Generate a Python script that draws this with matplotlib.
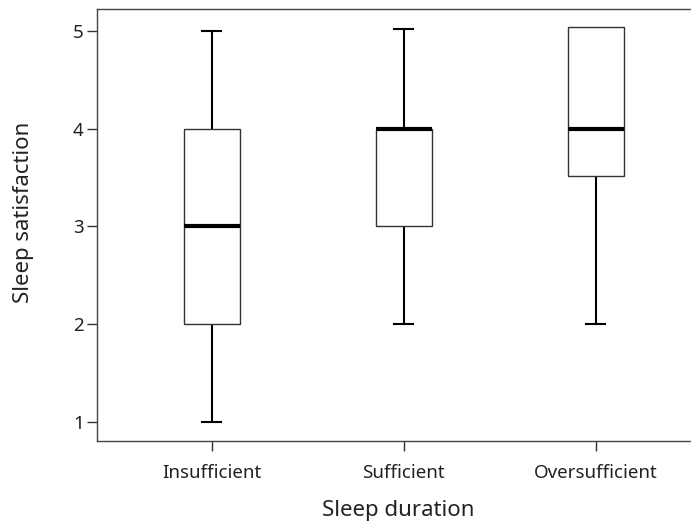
import matplotlib
matplotlib.use("Agg")
import matplotlib.pyplot as plt

categories = ["Insufficient", "Sufficient", "Oversufficient"]
whisker_low = [1.0, 2.0, 2.0]
q1 = [2.0, 3.0, 3.52]
median = [3.0, 4.0, 4.0]
q3 = [4.0, 4.0, 5.04]
whisker_high = [5.0, 5.02, 5.04]
y_ticks = [1, 2, 3, 4, 5]

plt.rcParams['font.family'] = ['Noto Sans', 'DejaVu Sans']

fig = plt.figure(figsize=(6.91, 5.26), dpi=100)
ax = fig.add_axes([97/691, 1-441/526, 1-97/691, (441-9)/526])

stats = []
for i, c in enumerate(categories):
    stats.append(dict(label=c, whislo=whisker_low[i], q1=q1[i], med=median[i],
                      q3=q3[i], whishi=whisker_high[i], fliers=[]))

positions = list(range(len(categories)))
res = ax.bxp(stats, positions=positions, widths=56/192, capwidths=19/192,
             showfliers=False, patch_artist=True,
             boxprops=dict(facecolor='white', edgecolor='#333333', linewidth=1.0, zorder=3),
             whiskerprops=dict(color='black', linewidth=1.5, zorder=2),
             capprops=dict(color='black', linewidth=1.5, zorder=2),
             medianprops=dict(color='black', linewidth=3.0, solid_capstyle='butt', zorder=4))

# hide caps that coincide with the box edge
for i in range(len(categories)):
    if whisker_high[i] == q3[i]:
        res['caps'][2 * i + 1].set_visible(False)
    if whisker_low[i] == q1[i]:
        res['caps'][2 * i].set_visible(False)

ax.set_xlim(-0.597, 2.496)
ax.set_ylim(0.81, 5.22)
ax.set_yticks(y_ticks)
ax.set_yticklabels([str(t) for t in y_ticks])
ax.set_xticks(positions)
ax.set_xticklabels(categories)

for s in ['left', 'top', 'bottom']:
    ax.spines[s].set_color('#444444')
    ax.spines[s].set_linewidth(1.0)
ax.spines['right'].set_visible(False)

ax.tick_params(axis='y', direction='out', length=7.5, width=1.0, color='#333333',
               labelsize=13.5, labelcolor='#222222', pad=2)
ax.tick_params(axis='x', direction='out', length=7.5, width=1.0, color='#333333',
               labelsize=13.5, labelcolor='#222222', pad=9)

ax.set_xlabel("Sleep duration", fontsize=16, color='#222222', labelpad=13)
ax.xaxis.label.set_x(0.507)
ax.set_ylabel("Sleep satisfaction", fontsize=16, color='#222222', labelpad=28)
ax.yaxis.label.set_y(0.53)

fig.savefig("out.png", dpi=100)
